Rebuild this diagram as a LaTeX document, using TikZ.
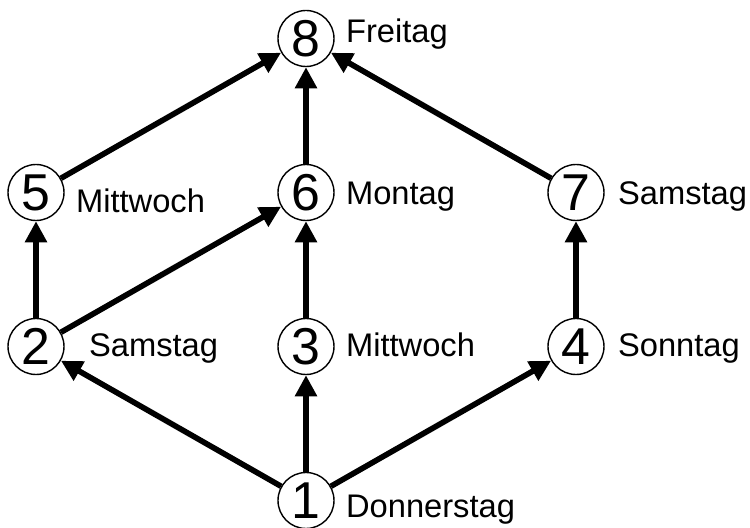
\documentclass[tikz,border=0pt]{standalone}
\usepackage{fontspec}
\setmainfont{Liberation Sans}
\usetikzlibrary{positioning,arrows.meta}

\begin{document}
\begin{tikzpicture}[
  day/.style={
    circle, draw, line width=0.8pt, minimum size=1.12cm, inner sep=0pt,
    font=\fontsize{29.5}{30}\selectfont
  },
  dayname/.style={anchor=base west, inner sep=0pt, font=\fontsize{18.6}{22}\selectfont},
  arr/.style={-{Triangle[length=12pt,width=12pt]}, line width=3.2pt},
  node distance=3.08cm and 5.4cm, on grid
]
\useasboundingbox (0,0) rectangle (15,10.56);

%% ── NODES ──
\node[day] (n1) at (6.12,0.55) {1};
\node[day, above left=of n1] (n2) {2};
\node[day, above=of n1] (n3) {3};
\node[day, above right=of n1] (n4) {4};
\node[day, above=of n2] (n5) {5};
\node[day, above=of n3] (n6) {6};
\node[day, above=of n4] (n7) {7};
\node[day, above=of n6] (n8) {8};

%% ── DAY NAMES ──
\node[dayname] (t1) at ([shift={(0.22,-0.34)}]n1.east) {Donnerstag};
\node[dayname] (t2) at ([shift={(0.48,-0.20)}]n2.east) {Samstag};
\node[dayname] (t3) at ([shift={(0.22,-0.20)}]n3.east) {Mittwoch};
\node[dayname] (t4) at ([shift={(0.26,-0.20)}]n4.east) {Sonntag};
\node[dayname] (t5) at ([shift={(0.22,-0.40)}]n5.east) {Mittwoch};
\node[dayname] (t6) at ([shift={(0.22,-0.24)}]n6.east) {Montag};
\node[dayname] (t7) at ([shift={(0.26,-0.24)}]n7.east) {Samstag};
\node[dayname] (t8) at ([shift={(0.22,-0.08)}]n8.east) {Freitag};

%% ── ARROWS ──
\draw[arr] (n1)--(n2);
\draw[arr] (n1)--(n3);
\draw[arr] (n1)--(n4);
\draw[arr] (n2)--(n5);
\draw[arr] (n2)--(n6);
\draw[arr] (n3)--(n6);
\draw[arr] (n4)--(n7);
\draw[arr] (n5)--(n8);
\draw[arr] (n6)--(n8);
\draw[arr] (n7)--(n8);

\end{tikzpicture}
\end{document}
